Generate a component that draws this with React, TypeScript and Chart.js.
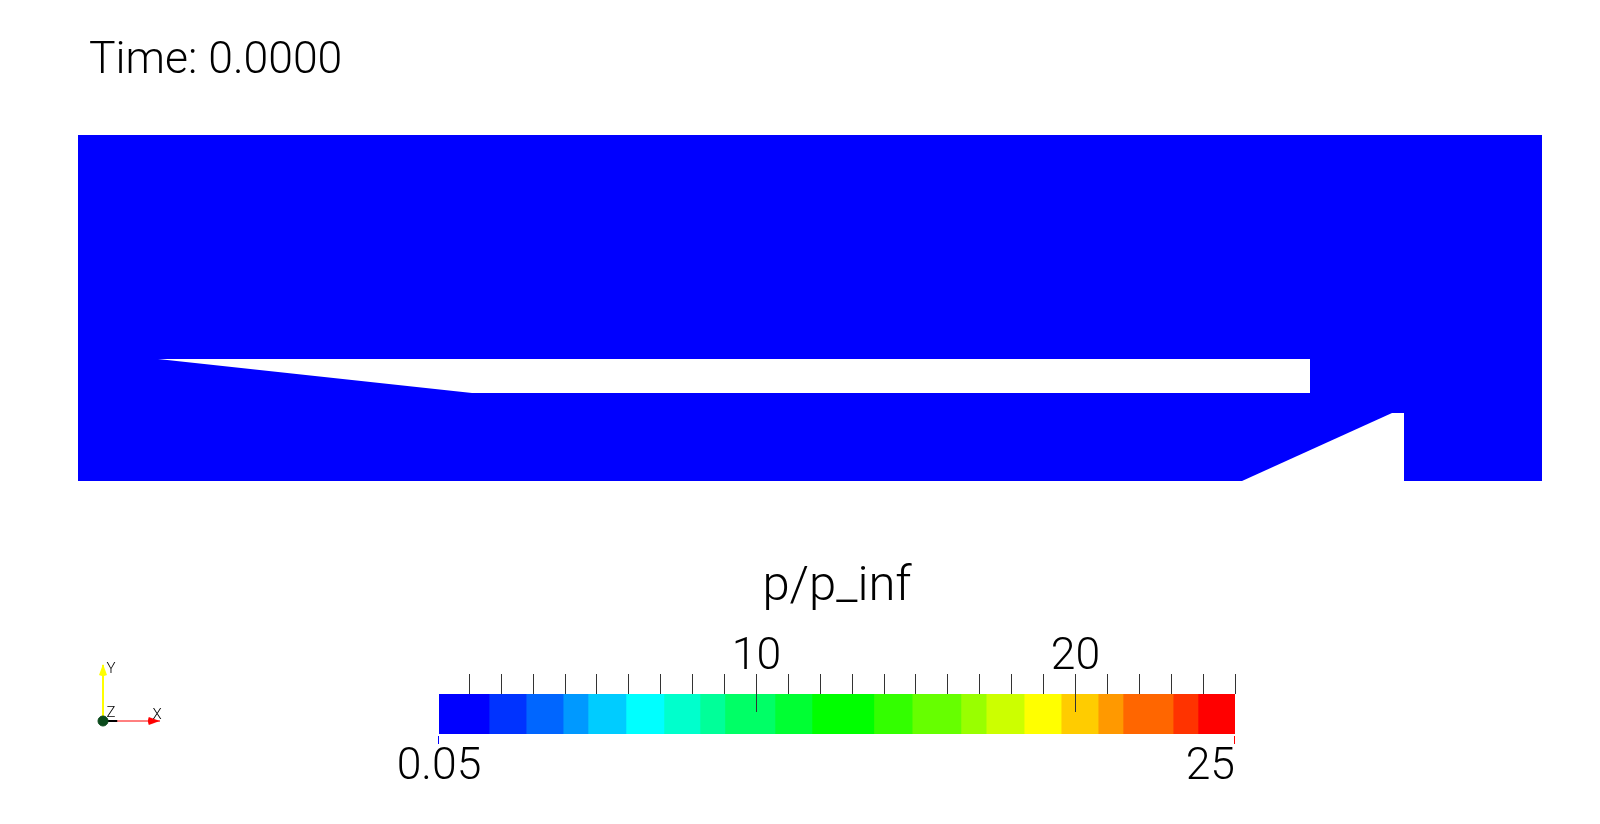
import React, { useEffect, useRef } from "react";
import { Chart, registerables } from "chart.js";

Chart.register(...registerables);

const FONT = '"Roboto", sans-serif';
const TEXT_SIZE = 44.5;
const TITLE_SIZE = 49;

// flow domain (x, y in body lengths)
const domainX = [-0.2, 3.46];
const domainTop = [0.865, 0.865];
const wedgeX = [0, 0.785, 2.88];
const wedgeY = [0.305, 0.22, 0.22];
const wedgeTop = 0.305;
const rampX = [2.71, 3.085, 3.115];
const rampY = [0, 0.17, 0.17];
const domainYMax = 0.865;
const timeLabel = "Time: 0.0000";

// colour bar
const bandEdges = [0.05, 1.62, 2.78, 3.94, 4.72, 5.91, 7.1, 8.23, 9.01, 10.58, 11.74, 13.68, 14.88, 16.41, 17.2, 18.39, 19.55, 20.71, 21.49, 23.06, 23.84, 25];
const bandColors = ["#0000ff", "#0033ff", "#0066ff", "#0099ff", "#00ccff", "#00ffff", "#00ffcc", "#00ff99", "#00ff66", "#00ff33", "#00ff00", "#33ff00", "#66ff00", "#99ff00", "#ccff00", "#ffff00", "#ffcc00", "#ff9900", "#ff6600", "#ff3300", "#ff0000"];
const tickValues = [1, 2, 3, 4, 5, 6, 7, 8, 9, 10, 11, 12, 13, 14, 15, 16, 17, 18, 19, 20, 21, 22, 23, 24, 25];
const labelledTicks = [10, 20];
const barTitle = "p/p_inf";
const barMin = 0.05;
const barMax = 25;

// orientation triad
const triadX = [[0, 0], [0.89, 0], [1, 0]];
const triadY = [[0, 0], [0, 0.91], [0, 1]];
const triadZ = [[0, 0], [0.25, 0]];

const blank = { display: false };

function coneImage(color: string) {
  const c = document.createElement("canvas");
  c.width = 8;
  c.height = 12;
  const g = c.getContext("2d")!;
  g.fillStyle = color;
  g.beginPath();
  g.moveTo(4, 0);
  g.lineTo(8, 11);
  g.lineTo(5, 12);
  g.lineTo(3, 12);
  g.lineTo(0, 11);
  g.closePath();
  g.fill();
  return c;
}

export default function App() {
  const domainRef = useRef<HTMLCanvasElement>(null);
  const barRef = useRef<HTMLCanvasElement>(null);
  const triadRef = useRef<HTMLCanvasElement>(null);

  useEffect(() => {
    const pts = (xs: number[], ys: number[]) => xs.map((x, i) => ({ x, y: ys[i] }));
    const line = { showLine: true, borderWidth: 0, pointRadius: 0, tension: 0 };

    const domain = new Chart(domainRef.current!, {
      type: "scatter",
      data: {
        datasets: [
          { ...line, label: "wedge", data: pts(wedgeX, wedgeY), fill: { value: wedgeTop }, backgroundColor: "#ffffff", borderColor: "#ffffff" },
          { ...line, label: "ramp", data: pts(rampX, rampY), fill: "origin", backgroundColor: "#ffffff", borderColor: "#ffffff" },
          { ...line, label: "p/p_inf", data: pts(domainX, domainTop), fill: "origin", backgroundColor: "#0000ff", borderColor: "#0000ff" },
        ],
      },
      options: {
        responsive: false,
        animation: false,
        layout: { padding: { left: 78, right: 58, top: 135, bottom: 343 } },
        plugins: { legend: blank, tooltip: { enabled: false } },
        scales: {
          x: { display: false, min: domainX[0], max: domainX[1] },
          y: { display: false, min: 0, max: domainYMax },
        },
      },
      plugins: [
        {
          id: "timeLabel",
          afterDraw(c: Chart) {
            const g = c.ctx;
            g.save();
            g.font = `300 ${TEXT_SIZE}px ${FONT}`;
            g.fillStyle = "#000";
            g.textAlign = "left";
            g.textBaseline = "alphabetic";
            g.fillText(timeLabel, 89, 73);
            g.restore();
          },
        },
      ],
    } as any);

    const bar = new Chart(barRef.current!, {
      type: "bar",
      data: {
        labels: [barTitle],
        datasets: bandColors.map((color, i) => ({
          label: color,
          data: [[bandEdges[i], bandEdges[i + 1]]],
          backgroundColor: color,
          borderWidth: 0,
          borderSkipped: false,
          grouped: false,
          barPercentage: 1,
          categoryPercentage: 1,
        })),
      },
      options: {
        indexAxis: "y",
        responsive: false,
        animation: false,
        layout: { padding: { left: 439, right: 365, top: 558, bottom: 90 } },
        plugins: { legend: blank, tooltip: { enabled: false } },
        scales: {
          y: { display: false },
          x: {
            type: "linear",
            position: "top",
            min: barMin,
            max: barMax,
            afterBuildTicks(s: any) {
              s.ticks = tickValues.map((value) => ({ value }));
            },
            afterFit(s: any) {
              s.height = 136;
            },
            border: { display: false },
            grid: { drawOnChartArea: false, drawTicks: true, tickLength: 20, color: "#333333", lineWidth: 1 },
            title: { display: true, text: barTitle, color: "#000", font: { family: FONT, size: TITLE_SIZE, weight: "300" }, padding: { top: 0, bottom: 0 } },
            ticks: {
              autoSkip: false,
              maxRotation: 0,
              padding: -11,
              color: "#000",
              font: { family: FONT, size: TEXT_SIZE, weight: "300" },
              callback: (v: number) => (labelledTicks.includes(v) ? String(v) : ""),
            },
          },
        },
      },
      plugins: [
        {
          id: "barExtras",
          afterDatasetsDraw(c: any) {
            const g = c.ctx;
            const s = c.scales.x;
            const top = c.chartArea.top;
            const bottom = c.chartArea.bottom;
            g.save();
            g.lineWidth = 1;
            g.strokeStyle = "#333333";
            labelledTicks.forEach((v) => {
              const x = Math.round(s.getPixelForValue(v)) + 0.5;
              g.beginPath();
              g.moveTo(x, top);
              g.lineTo(x, top + 18);
              g.stroke();
            });
            const ends: [number, string, CanvasTextAlign, string][] = [
              [barMin, "#0000ff", "center", "0.05"],
              [barMax, "#ff0000", "right", "25"],
            ];
            g.font = `300 ${TEXT_SIZE}px ${FONT}`;
            g.fillStyle = "#000";
            ends.forEach(([v, color, align, text]) => {
              const x = Math.round(s.getPixelForValue(v));
              g.strokeStyle = color;
              g.beginPath();
              g.moveTo(x - 0.5, bottom + 2);
              g.lineTo(x - 0.5, bottom + 10);
              g.stroke();
              g.textAlign = align;
              g.textBaseline = "alphabetic";
              g.fillText(text, x, bottom + 45);
            });
            g.restore();
          },
        },
      ],
    } as any);

    const axisLine = (label: string, data: number[][], color: string, width: number, rotation: number) => ({
      label,
      data: data.map(([x, y]) => ({ x, y })),
      showLine: true,
      clip: false,
      borderColor: color,
      borderWidth: width,
      backgroundColor: color,
      pointBorderColor: color,
      pointStyle: coneImage(color),
      pointRotation: rotation,
      pointRadius: (ctx: any) => (ctx.dataIndex === 1 && data.length === 3 ? 6 : 0),
    });

    const triad = new Chart(triadRef.current!, {
      type: "scatter",
      data: {
        datasets: [
          {
            label: "origin",
            data: [{ x: 0, y: 0 }],
            clip: false,
            pointRadius: 5,
            backgroundColor: "#0b4a1c",
            borderColor: "#0b4a1c",
          },
          axisLine("Z", triadZ, "#000000", 2, 0),
          axisLine("X", triadX, "#ff0000", 1, 90),
          axisLine("Y", triadY, "#ffff00", 2, 0),
        ],
      },
      options: {
        responsive: false,
        animation: false,
        layout: { padding: { left: 103, right: 1440, top: 665, bottom: 103 } },
        plugins: { legend: blank, tooltip: { enabled: false } },
        scales: {
          x: { display: false, min: 0, max: 1 },
          y: { display: false, min: 0, max: 1 },
        },
      },
      plugins: [
        {
          id: "triadLabels",
          afterDraw(c: any) {
            const g = c.ctx;
            g.save();
            g.font = `300 15px ${FONT}`;
            g.fillStyle = "#000";
            g.textAlign = "center";
            g.textBaseline = "middle";
            g.fillText("Y", c.scales.x.getPixelForValue(0.14), c.scales.y.getPixelForValue(0.93));
            g.fillText("Z", c.scales.x.getPixelForValue(0.14), c.scales.y.getPixelForValue(0.14));
            g.fillText("X", c.scales.x.getPixelForValue(0.95), c.scales.y.getPixelForValue(0.11));
            g.restore();
          },
        },
      ],
    } as any);

    return () => {
      domain.destroy();
      bar.destroy();
      triad.destroy();
    };
  }, []);

  const layer: React.CSSProperties = { position: "absolute", left: 0, top: 0, width: 1600, height: 824 };
  return (
    <div style={{ position: "fixed", left: 0, top: 0, width: 1600, height: 824, background: "#fff", overflow: "hidden" }}>
      <canvas ref={domainRef} width={1600} height={824} style={layer} />
      <canvas ref={barRef} width={1600} height={824} style={layer} />
      <canvas ref={triadRef} width={1600} height={824} style={layer} />
    </div>
  );
}
